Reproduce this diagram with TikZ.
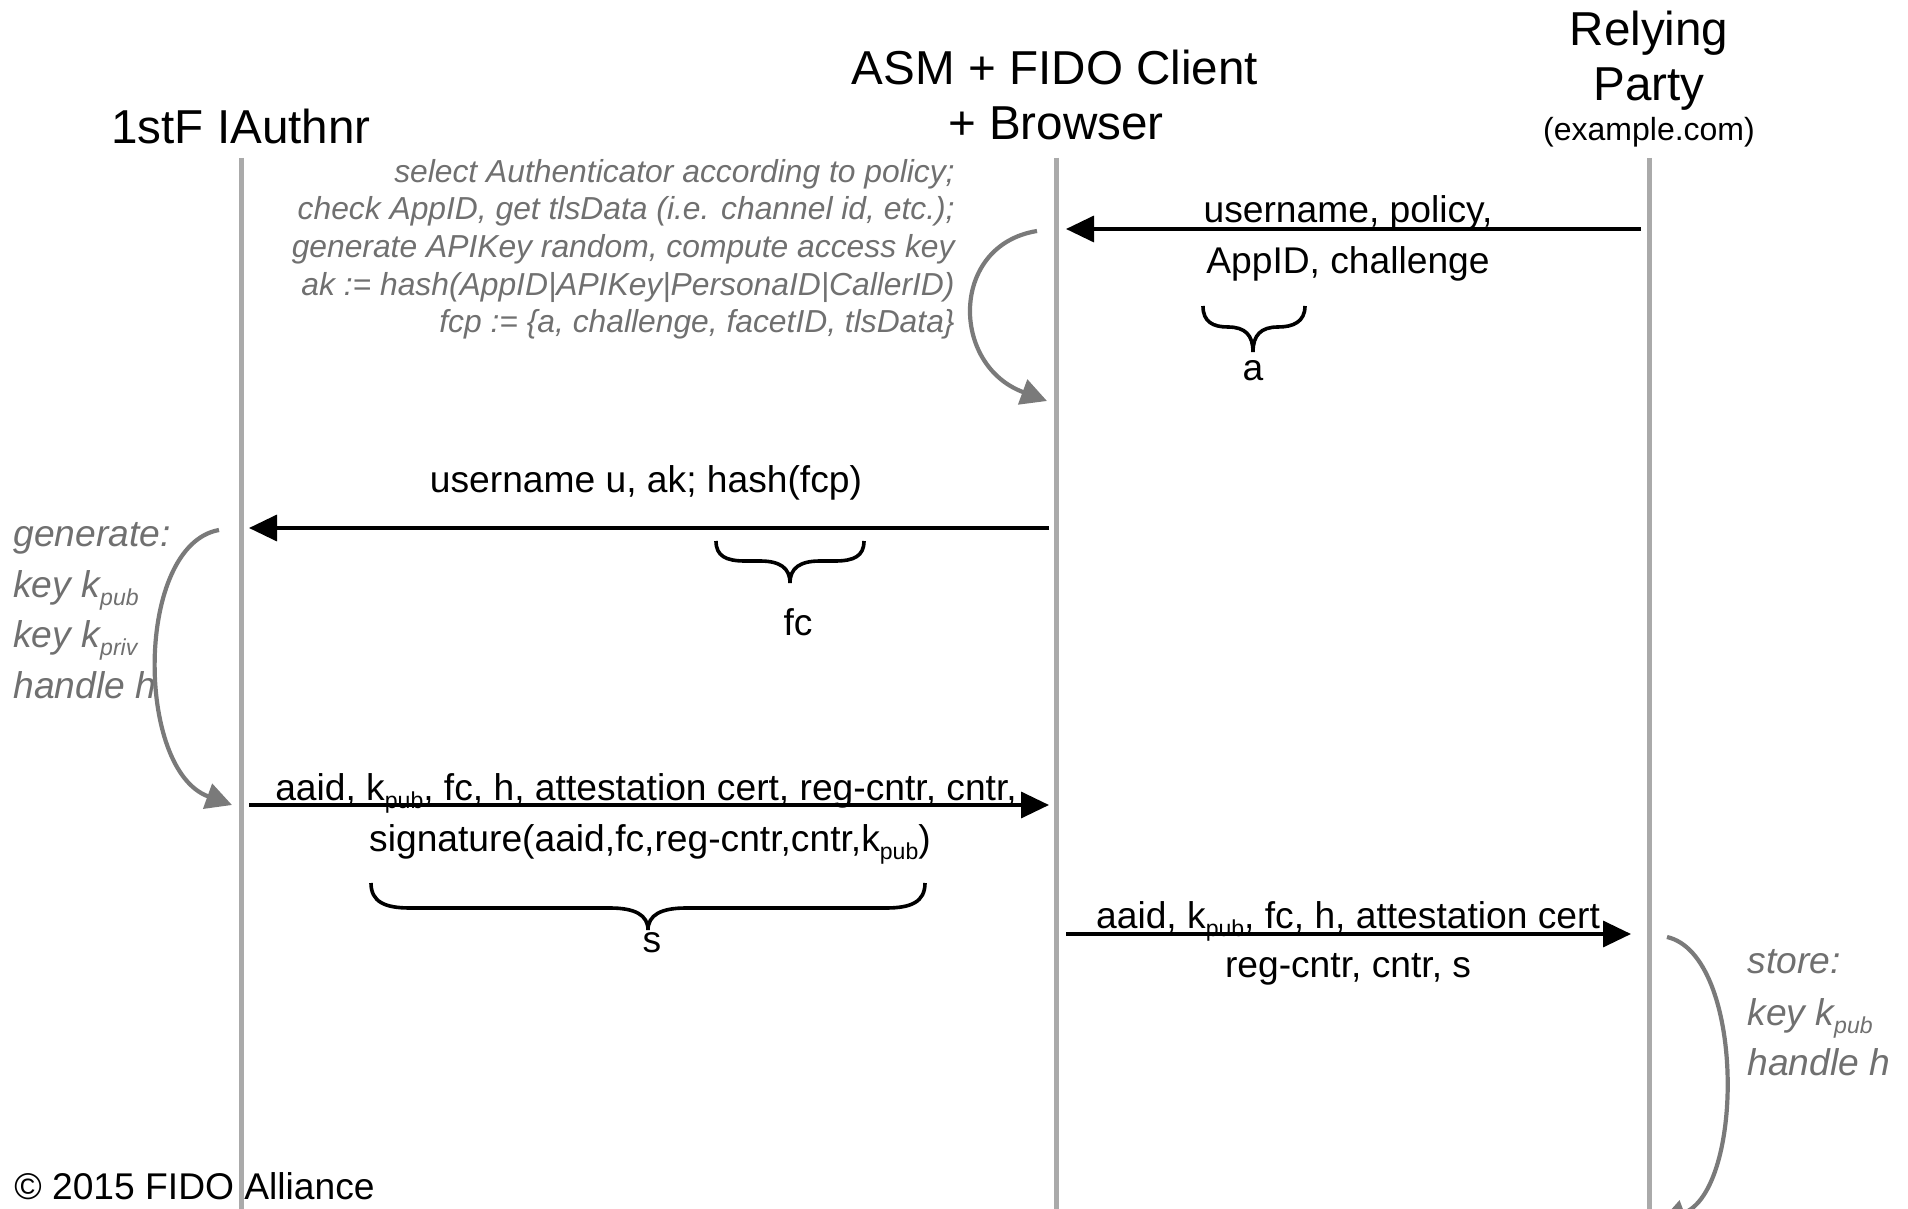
\documentclass[tikz,border=0pt]{standalone}
\usepackage{fontspec}
\setmainfont{Liberation Sans}
\usepackage{graphicx}
\usetikzlibrary{arrows.meta}
\definecolor{lifegray}{HTML}{AAAAAA}
\definecolor{notegray}{HTML}{707070}
\definecolor{curvegray}{HTML}{7A7A7A}
\newcommand{\lsub}[1]{\raisebox{-0.45ex}{\scalebox{0.62}{#1}}}
\begin{document}
\begin{tikzpicture}[x=0.5pt,y=-0.5pt,
  lifeline/.style={draw=lifegray, line width=2.5pt},
  msg/.style={line width=1.75pt, -{Triangle[length=14pt,width=13pt]}},
  selfloop/.style={draw=curvegray, line width=2.1pt, -{Triangle[length=13pt,width=13pt]}, fill=none},
  hdr/.style={font=\fontsize{23.8}{28}\selectfont, inner sep=0pt, anchor=base},
  hdrsmall/.style={font=\fontsize{16}{19}\selectfont, inner sep=0pt, anchor=base},
  lbl/.style={font=\fontsize{18.6}{22}\selectfont, inner sep=0pt, anchor=base},
  note/.style={font=\fontsize{15.9}{19}\selectfont\itshape, text=notegray, inner sep=0pt, anchor=base east},
  gnote/.style={font=\fontsize{18.6}{22}\selectfont\itshape, text=notegray, inner sep=0pt, anchor=base west},
  bracepath/.style={line width=1.8pt}
]
\fill[white] (0,0) rectangle (1908,1209);
\useasboundingbox (0,0) rectangle (1908,1209);

% headers
\node[hdr] (hA) at (241,143.6) {1stF IAuthnr};
\node[hdr] (hB1) at (1055,85) {ASM + FIDO Client};
\node[hdr] (hB2) at (1056,140) {+ Browser};
\node[hdr] (hC1) at (1649,46) {Relying};
\node[hdr] (hC2) at (1649,101) {Party};
\node[hdrsmall] (hC3) at (1649,141) {(example.com)};

% lifelines
\coordinate (Atop) at (241,158);
\coordinate (Abot) at (241,1215);
\coordinate (Btop) at (1056,158);
\coordinate (Bbot) at (1056,1215);
\coordinate (Ctop) at (1649,158);
\coordinate (Cbot) at (1649,1215);
\draw[lifeline] (Atop) -- (Abot);
\draw[lifeline] (Btop) -- (Bbot);
\draw[lifeline] (Ctop) -- (Cbot);

% message 1: RP -> client
\coordinate (m1s) at (1641,229);
\coordinate (m1e) at (1066,229);
\draw[msg] (m1s) -- (m1e);
\node[lbl] (m1a) at (1348,223) {username, policy,};
\node[lbl] (m1b) at (1348,274) {AppID, challenge};
\draw[bracepath] (1203,306) .. controls (1203,322) and (1213,327) .. (1228,327) .. controls (1245,327) and (1253,335) .. (1253,352) .. controls (1253,335) and (1261,327) .. (1278,327) .. controls (1293,327) and (1305,322) .. (1305,306);
\node[lbl] (ba) at (1253,380) {a};

% client note + self loop
\node[note] (n1) at (955,182.5) {select Authenticator according to policy;};
\node[note] (n2) at (955,220) {check AppID, get tlsData (i.e. channel id, etc.);};
\node[note] (n3) at (955,258) {generate APIKey random, compute access key};
\node[note] (n4) at (955,296) {ak := hash(AppID|APIKey|PersonaID|CallerID)};
\node[note] (n5) at (955,333) {fcp := \{a, challenge, facetID, tlsData\}};
\coordinate (s1s) at (1037,231);
\coordinate (s1e) at (1047,401);
\draw[selfloop] (s1s) .. controls (950,245) and (950,365) .. (s1e);

% message 2: client -> authenticator
\coordinate (m2s) at (1049,528);
\coordinate (m2e) at (249,528);
\draw[msg] (m2s) -- (m2e);
\node[lbl] (m2a) at (646,493) {username u, ak; hash(fcp)};
\draw[bracepath] (716,541) .. controls (716,556) and (726,561) .. (745,561) -- (760,561) .. controls (780,561) and (790,568) .. (790,583) .. controls (790,568) and (800,561) .. (820,561) -- (835,561) .. controls (854,561) and (864,556) .. (864,541);
\node[lbl] (bfc) at (798,635) {fc};

% authenticator note + self loop
\node[gnote] (g1) at (13,546) {generate:};
\node[gnote] (g2) at (13,597) {key k\lsub{pub}};
\node[gnote] (g3) at (13,647) {key k\lsub{priv}};
\node[gnote] (g4) at (13,698) {handle h};
\coordinate (s2s) at (219,530);
\coordinate (s2e) at (232,805);
\draw[selfloop] (s2s) .. controls (135,545) and (135,770) .. (s2e);

% message 3: authenticator -> client
\coordinate (m3s) at (249,805);
\coordinate (m3e) at (1049,805);
\draw[msg] (m3s) -- (m3e);
\node[lbl] (m3a) at (646,800) {aaid, k\lsub{pub}, fc, h, attestation cert, reg-cntr, cntr,};
\node[lbl] (m3b) at (650,851) {signature(aaid,fc,reg-cntr,cntr,k\lsub{pub})};
\draw[bracepath] (371,883) .. controls (371,902) and (385,908) .. (410,908) -- (610,908) .. controls (635,908) and (648,915) .. (648,930) .. controls (648,915) and (661,908) .. (686,908) -- (886,908) .. controls (911,908) and (925,902) .. (925,883);
\node[lbl] (bs) at (652,952) {s};

% message 4: client -> RP
\coordinate (m4s) at (1066,934);
\coordinate (m4e) at (1631,934);
\draw[msg] (m4s) -- (m4e);
\node[lbl] (m4a) at (1348,928) {aaid, k\lsub{pub}, fc, h, attestation cert};
\node[lbl] (m4b) at (1348,977) {reg-cntr, cntr, s};

% RP note + self loop
\node[gnote] (r1) at (1747,973) {store:};
\node[gnote] (r2) at (1747,1025) {key k\lsub{pub}};
\node[gnote] (r3) at (1747,1075) {handle h};
\coordinate (s3s) at (1667,937);
\coordinate (s3e) at (1660,1222);
\draw[selfloop] (s3s) .. controls (1745,955) and (1745,1190) .. (s3e);

% copyright
\node[lbl, anchor=base west] (copy) at (14,1199) {© 2015 FIDO Alliance};
\end{tikzpicture}
\end{document}
